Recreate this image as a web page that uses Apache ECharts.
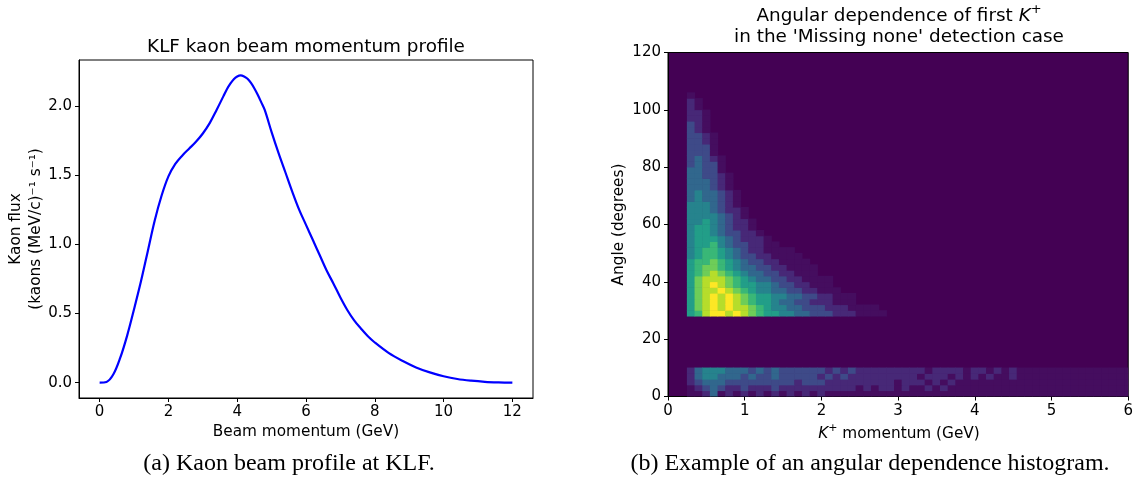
<!DOCTYPE html>
<html><head><meta charset="utf-8">
<script src="https://cdn.jsdelivr.net/npm/echarts@6/dist/echarts.min.js"></script>
<style>html,body{margin:0;padding:0;background:#fff}#c{width:1136px;height:496px}</style>
</head><body><div id="c"></div><script>
// ---- (a) beam momentum profile ----
const momentumA = [0,0.2,0.4,0.6,0.8,1.0,1.2,1.4,1.6,1.8,2.0,2.2,2.4,2.6,2.8,3.0,3.2,3.4,3.6,3.7,3.8,3.9,4.0,4.1,4.2,4.3,4.4,4.5,4.6,4.7,4.8,5.0,5.2,5.4,5.6,5.8,6.0,6.2,6.4,6.6,6.8,7.0,7.2,7.4,7.6,7.8,8.0,8.4,8.8,9.2,9.6,10.0,10.4,10.8,11.2,11.6,12.0];
const fluxA = [0,0.005,0.06,0.18,0.34,0.53,0.73,0.95,1.17,1.35,1.49,1.58,1.64,1.69,1.74,1.80,1.875,1.97,2.07,2.12,2.16,2.192,2.212,2.22,2.212,2.195,2.165,2.125,2.078,2.025,1.97,1.81,1.66,1.52,1.38,1.25,1.14,1.03,0.92,0.81,0.715,0.615,0.525,0.45,0.39,0.335,0.29,0.215,0.158,0.11,0.074,0.046,0.026,0.014,0.006,0.002,0];
const xTicksA = [0,2,4,6,8,10,12];
const yTicksA = [0,0.5,1,1.5,2];

// ---- (b) angular histogram (levels 0-9, '.' = very faint) ----
const xTicksB = [0,1,2,3,4,5,6];
const yTicksB = [0,20,40,60,80,100,120];
const histXStart = 0.25, histXBin = 0.1, histYBin = 2;
const faintLevel = 0.3;
const upperStartAngle = 28;
const upperRows = [
 "56899898" + "76" + "55" + "44" + "33" + "222" + "111" + "....",
 "57898988" + "76" + "54" + "43" + "32" + "221" + "11" + "....",
 "57898987" + "65" + "54" + "33" + "22" + "11" + "1...",
 "5789898765" + "5443" + "3221" + "1...",
 "5788987654" + "4332" + "211." + "..",
 "5789876554" + "4322" + "11...",
 "5788876543" + "3221" + "1....",
 "5678765433" + "2211" + "...",
 "5677654332" + "211." + "...",
 "5667654322" + "11.." + "..",
 "4566543221" + "1...." ,
 "4566543211" + "....",
 "4556432211..",
 "4555432111.",
 "455432211.",
 "45543211.",
 "44543211.",
 "4444321.",
 "4443211.",
 "444321.",
 "343321.",
 "343321.",
 "33321.",
 "33321.",
 "33221.",
 "3322.",
 "2322.",
 "2321.",
 "222.",
 "222.",
 "221.",
 "221.",
 "21.",
 "21.",
 "11.",
 "11.",
 "1.",
 "1.",
 "."
];
const lowerStartAngle = 0;
const lowerRows = [
 "..13.1.1.1" + ".1.1.1.1.." + ".........." + ".........." + ".........." + "........",
 ".123211211" + "1211111111" + "11.1.11.1." + ".1.1......" + ".........." + "........",
 "1233322222" + "2222122211" + "1111111.11" + "1.1.1....." + ".........." + "........",
 "1344333232" + "2322222121" + "2111111111" + ".111.1.1.1" + "..1......." + "........",
 "1344433323" + "2322222212" + "1211111111" + "1.1111.11." + "1.1......." + "........"
];

const viridis = ['#440154','#482475','#414487','#355f8d','#2a788e','#21918c','#22a884','#44bf70','#7ad151','#bddf26','#fde725'];

function cellsFrom(rows, startAngle) {
  const out = [];
  rows.forEach((row, r) => {
    for (let j = 0; j < row.length; j++) {
      const ch = row[j];
      const v = ch === '.' ? faintLevel : Number(ch);
      if (v > 0) out.push([histXStart + histXBin * j, startAngle + histYBin * r, v]);
    }
  });
  return out;
}
const histCells = cellsFrom(upperRows, upperStartAngle).concat(cellsFrom(lowerRows, lowerStartAngle));

const FONT = "'DejaVu Sans', sans-serif";
const TICK = 15;
const chart = echarts.init(document.getElementById('c'), null, {renderer: 'canvas'});

function axisCommon(extra) {
  return Object.assign({
    type: 'value',
    splitLine: {show: false},
    axisLine: {show: true, onZero: false, lineStyle: {color: '#000', width: 1}}
  }, extra);
}
function ticks(vals, fmt) {
  return {
    axisTick: {show: true, length: 4, customValues: vals, lineStyle: {color: '#000', width: 1}},
    axisLabel: {customValues: vals, color: '#000', fontSize: TICK, fontFamily: FONT, margin: 7, formatter: fmt}
  };
}

chart.setOption({
  animation: false,
  backgroundColor: '#fff',
  grid: [
    {left: 79, top: 60, width: 454, height: 338, show: true, borderColor: '#000', borderWidth: 1, backgroundColor: '#fff'},
    {left: 668, top: 52.5, width: 462, height: 344, show: true, borderColor: '#000', borderWidth: 1, backgroundColor: '#440154'}
  ],
  xAxis: [
    axisCommon(Object.assign({gridIndex: 0, min: -0.6, max: 12.6}, ticks(xTicksA))),
    axisCommon(Object.assign({gridIndex: 1, min: 0, max: 6, interval: 1}, ticks(xTicksB)))
  ],
  yAxis: [
    axisCommon(Object.assign({gridIndex: 0, min: -0.111, max: 2.331}, ticks(yTicksA, v => Number(v).toFixed(1)))),
    axisCommon(Object.assign({gridIndex: 1, min: 0, max: 120, interval: 20}, ticks(yTicksB)))
  ],
  visualMap: {
    type: 'continuous', show: false, seriesIndex: 1, dimension: 2, min: 0, max: 9,
    inRange: {color: viridis}
  },
  series: [
    {
      type: 'line', xAxisIndex: 0, yAxisIndex: 0,
      data: momentumA.map((m, i) => [m, fluxA[i]]),
      showSymbol: false, smooth: 0.35,
      lineStyle: {color: '#0000ff', width: 2.2}
    },
    {
      type: 'custom', xAxisIndex: 1, yAxisIndex: 1,
      dimensions: ['p', 'angle', 'count'],
      encode: {x: 0, y: 1},
      data: histCells,
      renderItem: function (params, api) {
        const x0 = api.value(0), y0 = api.value(1);
        const p1 = api.coord([x0, y0 + histYBin]);
        const p2 = api.coord([x0 + histXBin, y0]);
        const cs = params.coordSys;
        const rect = echarts.graphic.clipRectByRect(
          {x: p1[0] - 0.3, y: p1[1] - 0.3, width: p2[0] - p1[0] + 0.6, height: p2[1] - p1[1] + 0.6},
          {x: cs.x, y: cs.y, width: cs.width, height: cs.height});
        if (!rect) return;
        return {type: 'rect', shape: rect, style: {fill: api.visual('color')}};
      }
    }
  ],
  graphic: [
    {type: 'text', x: 306, y: 47.5, style: {text: 'KLF kaon beam momentum profile', font: "18.4px " + FONT, fill: '#000', textAlign: 'center', textVerticalAlign: 'middle'}},
    {type: 'text', x: 306, y: 432, style: {text: 'Beam momentum (GeV)', font: "15.3px " + FONT, fill: '#000', textAlign: 'center', textVerticalAlign: 'middle'}},
    {type: 'text', x: 26, y: 229, rotation: Math.PI / 2, style: {text: 'Kaon flux\n(kaons (MeV/c)⁻¹ s⁻¹)', font: "15.3px " + FONT, lineHeight: 19.5, fill: '#000', textAlign: 'center', textVerticalAlign: 'middle'}},
    {type: 'text', x: 899, y: 14.5, style: {text: '{n|Angular dependence of first }{i|K}{s|+}', fill: '#000', textAlign: 'center', textVerticalAlign: 'middle',
      rich: {n: {fontSize: 18.4, fontFamily: FONT, lineHeight: 22, verticalAlign: 'bottom'},
             i: {fontStyle: 'italic', fontSize: 18.4, fontFamily: FONT, lineHeight: 22, verticalAlign: 'bottom'},
             s: {fontSize: 13, fontFamily: FONT, lineHeight: 22, verticalAlign: 'top'}}}},
    {type: 'text', x: 899, y: 37, style: {text: "in the 'Missing none' detection case", font: "18.4px " + FONT, fill: '#000', textAlign: 'center', textVerticalAlign: 'middle'}},
    {type: 'text', x: 899, y: 432, style: {text: '{i|K}{s|+}{n| momentum (GeV)}', fill: '#000', textAlign: 'center', textVerticalAlign: 'middle',
      rich: {n: {fontSize: 15.3, fontFamily: FONT, lineHeight: 19, verticalAlign: 'bottom'},
             i: {fontStyle: 'italic', fontSize: 15.3, fontFamily: FONT, lineHeight: 19, verticalAlign: 'bottom'},
             s: {fontSize: 11, fontFamily: FONT, lineHeight: 19, verticalAlign: 'top'}}}},
    {type: 'text', x: 619, y: 224.5, rotation: Math.PI / 2, style: {text: 'Angle (degrees)', font: "15.3px " + FONT, fill: '#000', textAlign: 'center', textVerticalAlign: 'middle'}},
    {type: 'text', x: 289, y: 464, style: {text: '(a) Kaon beam profile at KLF.', font: "24px 'Liberation Serif', serif", fill: '#000', textAlign: 'center', textVerticalAlign: 'middle'}},
    {type: 'text', x: 870, y: 464, style: {text: '(b) Example of an angular dependence histogram.', font: "24px 'Liberation Serif', serif", fill: '#000', textAlign: 'center', textVerticalAlign: 'middle'}}
  ]
});
</script></body></html>
